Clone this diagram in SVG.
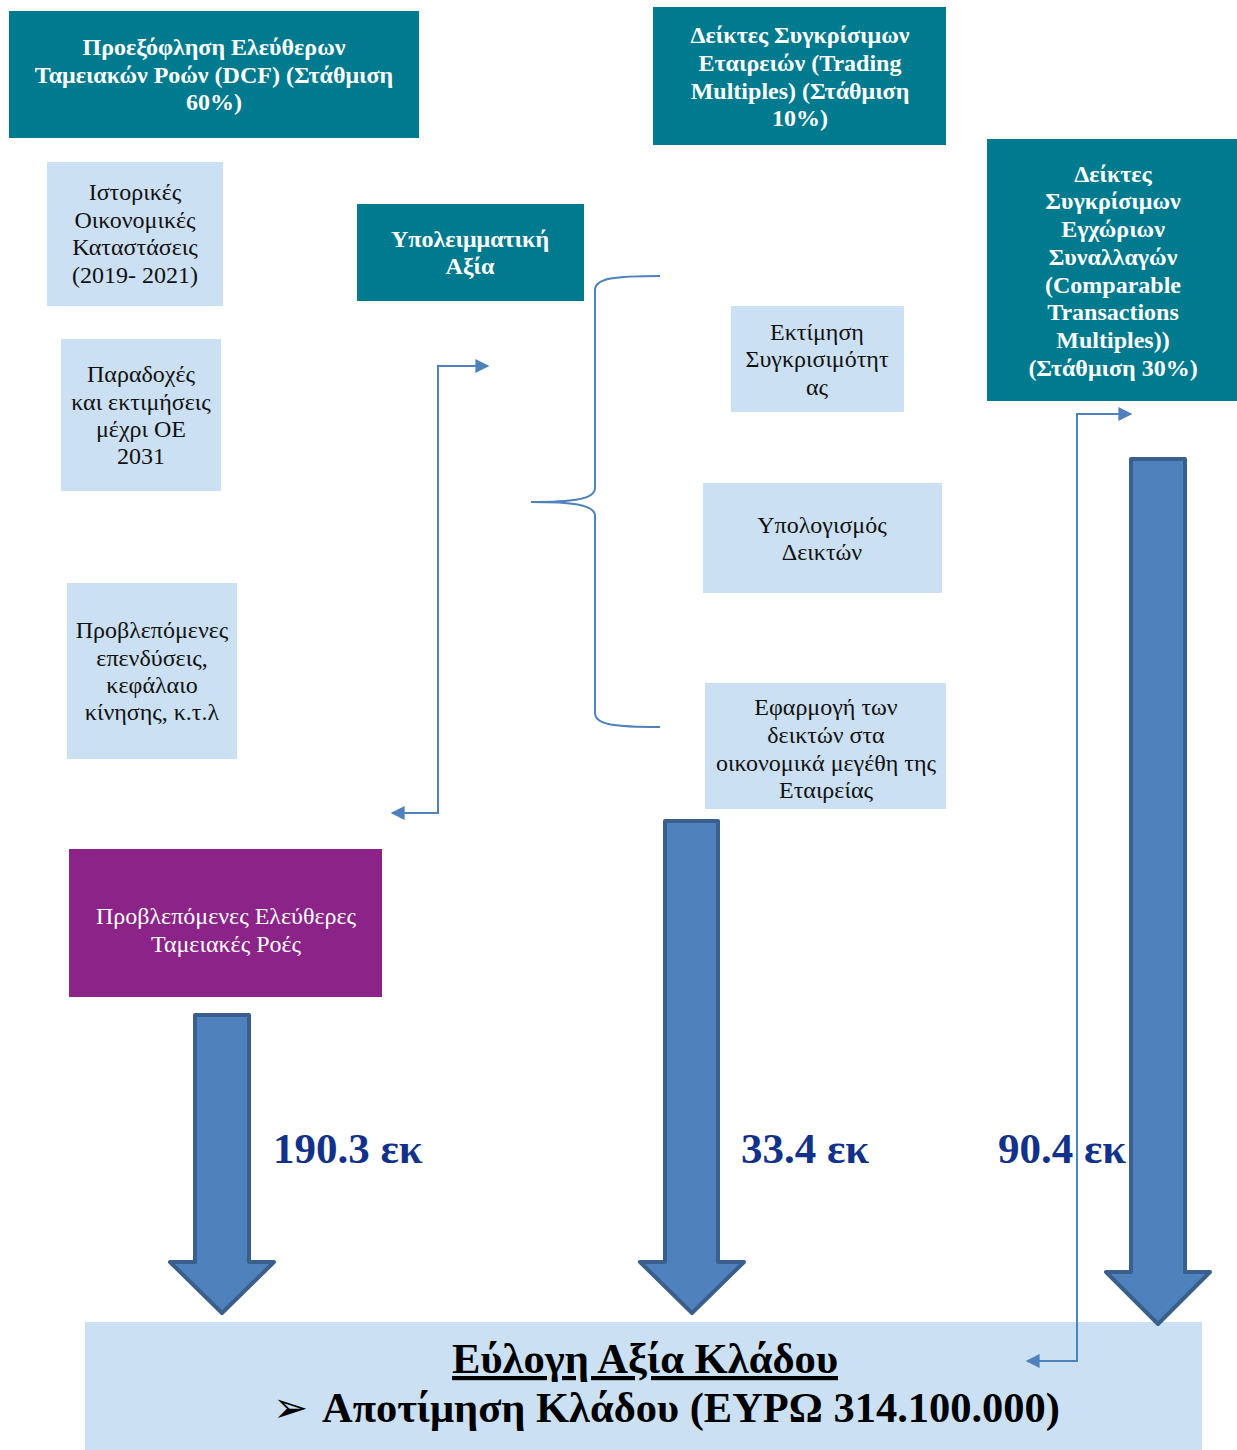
<svg xmlns="http://www.w3.org/2000/svg" width="1237" height="1450" viewBox="0 0 1237 1450">
<style>
.teal{fill:#007A8E;}
.lb{fill:#CCE0F3;}
.pur{fill:#8B2388;}
.tw{font-family:"Liberation Serif","Times New Roman",serif;font-size:24px;font-weight:bold;fill:#fff;text-anchor:middle;}
.tb{font-family:"Liberation Serif","Times New Roman",serif;font-size:24px;fill:#111;text-anchor:middle;}
.tp{font-family:"Liberation Serif","Times New Roman",serif;font-size:24px;fill:#fff;text-anchor:middle;}
.big{fill:#4F81BD;stroke:#3A5F8C;stroke-width:4;stroke-linejoin:round;}
.conn{fill:none;stroke:#4F81BD;stroke-width:2;}
.num{font-family:"Liberation Serif","Times New Roman",serif;font-size:43px;font-weight:bold;fill:#12318A;}
.bot{font-family:"Liberation Serif","Times New Roman",serif;font-size:42px;font-weight:bold;fill:#000;}
</style>
<defs>
<marker id="ah2" viewBox="0 0 10 10" refX="9" refY="5" markerWidth="16" markerHeight="14" markerUnits="userSpaceOnUse" orient="auto-start-reverse">
<path d="M0,0 L10,5 L0,10 z" fill="#4F81BD"/>
</marker>
</defs>

<g id="n-dcf">
<rect class="teal" x="9" y="11" width="410" height="127"/>
<text class="tw" x="214" y="55">Προεξόφληση Ελεύθερων</text>
<text class="tw" x="214" y="83">Ταμειακών Ροών (DCF) (Στάθμιση</text>
<text class="tw" x="214" y="110">60%)</text>
</g>
<g id="n-trading">
<rect class="teal" x="653" y="7" width="293" height="138"/>
<text class="tw" x="800" y="43">Δείκτες Συγκρίσιμων</text>
<text class="tw" x="800" y="71">Εταιρειών (Trading</text>
<text class="tw" x="800" y="99">Multiples) (Στάθμιση</text>
<text class="tw" x="800" y="126">10%)</text>
</g>
<g id="n-transactions">
<rect class="teal" x="987" y="139" width="250" height="262"/>
<text class="tw" x="1113" y="182">Δείκτες</text>
<text class="tw" x="1113" y="209">Συγκρίσιμων</text>
<text class="tw" x="1113" y="237">Εγχώριων</text>
<text class="tw" x="1113" y="265">Συναλλαγών</text>
<text class="tw" x="1113" y="293">(Comparable</text>
<text class="tw" x="1113" y="320">Transactions</text>
<text class="tw" x="1113" y="348">Multiples))</text>
<text class="tw" x="1113" y="376">(Στάθμιση 30%)</text>
</g>
<g id="n-residual">
<rect class="teal" x="357" y="204" width="227" height="97"/>
<text class="tw" x="470" y="247">Υπολειμματική</text>
<text class="tw" x="470" y="274">Αξία</text>
</g>
<g id="n-historical">
<rect class="lb" x="47" y="162" width="176" height="144"/>
<text class="tb" x="135" y="200">Ιστορικές</text>
<text class="tb" x="135" y="228">Οικονομικές</text>
<text class="tb" x="135" y="255">Καταστάσεις</text>
<text class="tb" x="135" y="283">(2019- 2021)</text>
</g>
<g id="n-assumptions">
<rect class="lb" x="61" y="339" width="160" height="152"/>
<text class="tb" x="141" y="382">Παραδοχές</text>
<text class="tb" x="141" y="410">και εκτιμήσεις</text>
<text class="tb" x="141" y="437">μέχρι ΟΕ</text>
<text class="tb" x="141" y="464">2031</text>
</g>
<g id="n-investments">
<rect class="lb" x="67" y="583" width="170" height="176"/>
<text class="tb" x="152" y="638">Προβλεπόμενες</text>
<text class="tb" x="152" y="666">επενδύσεις,</text>
<text class="tb" x="152" y="693">κεφάλαιο</text>
<text class="tb" x="152" y="720">κίνησης, κ.τ.λ</text>
</g>
<g id="n-comparability">
<rect class="lb" x="731" y="306" width="173" height="106"/>
<text class="tb" x="817" y="340">Εκτίμηση</text>
<text class="tb" x="817" y="367">Συγκρισιμότητ</text>
<text class="tb" x="817" y="395">ας</text>
</g>
<g id="n-calc">
<rect class="lb" x="703" y="483" width="239" height="110"/>
<text class="tb" x="822" y="533">Υπολογισμός</text>
<text class="tb" x="822" y="560">Δεικτών</text>
</g>
<g id="n-apply">
<rect class="lb" x="705" y="683" width="241" height="126"/>
<text class="tb" x="826" y="715">Εφαρμογή των</text>
<text class="tb" x="826" y="743">δεικτών στα</text>
<text class="tb" x="826" y="771">οικονομικά μεγέθη της</text>
<text class="tb" x="826" y="798">Εταιρείας</text>
</g>
<g id="n-fcf">
<rect class="pur" x="69" y="849" width="313" height="148"/>
<text class="tp" x="226" y="924">Προβλεπόμενες Ελεύθερες</text>
<text class="tp" x="226" y="952">Ταμειακές Ροές</text>
</g>
<g id="n-fairvalue">
<rect class="lb" x="85" y="1322" width="1117" height="128"/>
<text class="bot" x="645" y="1373" text-anchor="middle" textLength="386" lengthAdjust="spacingAndGlyphs" text-decoration="underline">Εύλογη Αξία Κλάδου</text>
<text x="273" y="1422" font-family="DejaVu Sans, sans-serif" font-size="42" fill="#000">➢</text>
<text class="bot" x="322" y="1422" textLength="738" lengthAdjust="spacingAndGlyphs">Αποτίμηση Κλάδου (ΕΥΡΩ 314.100.000)</text>
</g>

<g id="connectors">
<path class="big" d="M195,1015 H249 V1262 H274 L222,1313 L170,1262 H195 Z"/>
<path class="big" d="M665,821 H718 V1262 H744 L692,1313 L640,1262 H665 Z"/>
<path class="big" d="M1131,459 H1185 V1272 H1210 L1158,1324 L1106,1272 H1131 Z"/>
<path class="conn" d="M392,813 H438 V366 H488" marker-start="url(#ah2)" marker-end="url(#ah2)"/>
<path class="conn" d="M660,276 C615,276 595,278 595,290 V488 C595,500 570,502 531,502 C570,502 595,504 595,516 V713 C595,725 615,727 660,727"/>
<path class="conn" stroke-width="1.6" d="M1131,414 H1077 V1361 H1027" marker-start="url(#ah2)" marker-end="url(#ah2)"/>
</g>

<g id="labels">
<text class="num" x="273" y="1163">190.3 εκ</text>
<text class="num" x="741" y="1163">33.4 εκ</text>
<text class="num" x="998" y="1163">90.4 εκ</text>
</g>
</svg>
